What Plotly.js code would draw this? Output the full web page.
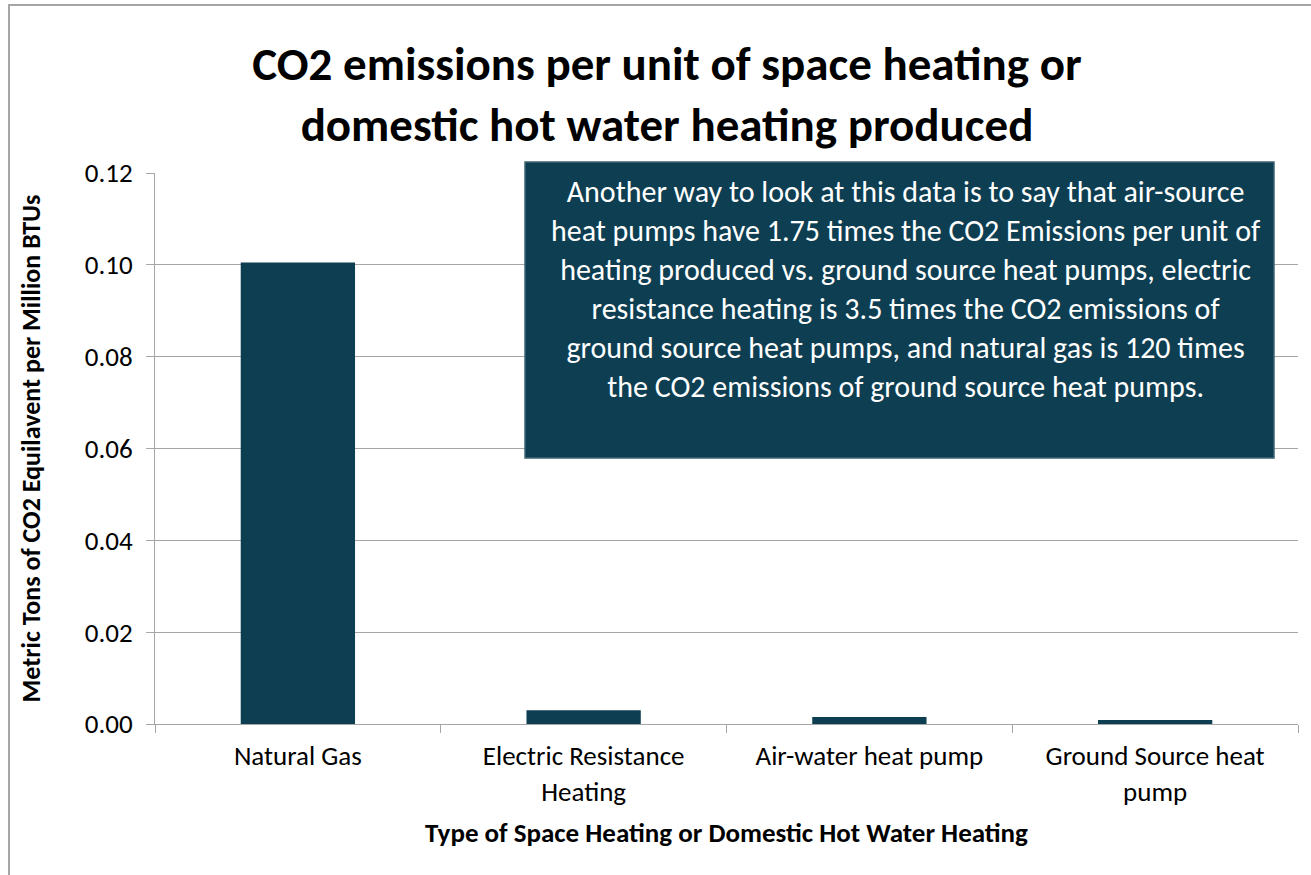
<!DOCTYPE html>
<html>
<head>
<meta charset="utf-8">
<script src="https://cdn.plot.ly/plotly-3.0.1.min.js"></script>
<style>html,body{margin:0;padding:0;background:#fff;}#chart{width:1311px;height:875px;}</style>
</head>
<body>
<div id="chart"></div>
<script>
const categories = ["Natural Gas", "Electric Resistance<br>Heating", "Air-water heat pump", "Ground Source heat<br>pump"];
const emissions = [0.1005, 0.0030, 0.0015, 0.00085];
const yTickValues = [0, 0.02, 0.04, 0.06, 0.08, 0.10, 0.12];
const yTickLabels = ["0.00", "0.02", "0.04", "0.06", "0.08", "0.10", "0.12"];
const chartTitle = "CO2 emissions per unit of space heating or<br>domestic hot water heating produced";
const xTitle = "Type of Space Heating or Domestic Hot Water Heating";
const yTitle = "Metric Tons of CO2 Equilavent per Million BTUs";
const noteText = "Another way to look at this data is to say that air-source<br>heat pumps have 1.75 times the CO2 Emissions per unit of<br>heating produced vs. ground source heat pumps, electric<br>resistance heating is 3.5 times the CO2 emissions of<br>ground source heat pumps, and natural gas is 120 times<br>the CO2 emissions of ground source heat pumps.";

const FONT = "Carlito, Calibri, Lato, 'Open Sans', sans-serif";
const BAR = "#0e3e52";

const W = 1311, H = 875, L = 155, R = 13, T = 173, B = 151;
const pw = W - L - R, ph = H - T - B;
const px = x => (x - L) / pw;
const py = y => (H - B - y) / ph;

const trace = {
  type: "bar",
  x: categories,
  y: emissions,
  marker: {color: BAR},
  hoverinfo: "x+y"
};

const layout = {
  width: W, height: H,
  margin: {l: L, r: R, t: T, b: B},
  paper_bgcolor: "#ffffff",
  plot_bgcolor: "#ffffff",
  font: {family: FONT, color: "#000000"},
  bargap: 0.6,
  showlegend: false,
  title: {
    text: "<b>" + chartTitle + "</b>",
    font: {family: FONT, size: 47, color: "#000000"},
    x: 667 / W, xref: "container", xanchor: "center",
    y: 1 - 80 / H, yref: "container", yanchor: "middle"
  },
  xaxis: {
    type: "category",
    showline: true, linecolor: "#a6a6a6", linewidth: 1,
    ticks: "outside", tickson: "boundaries", ticklen: 8, tickcolor: "#a6a6a6",
    ticklabelstandoff: 8,
    tickfont: {family: FONT, size: 27, color: "#000000"},
    showgrid: false, zeroline: false,
    automargin: false,
    title: {text: "<b>" + xTitle + "</b>", font: {family: FONT, size: 27, color: "#000000"}, standoff: 16}
  },
  yaxis: {
    range: [0, 0.12],
    tickvals: yTickValues, ticktext: yTickLabels,
    showline: true, linecolor: "#a6a6a6", linewidth: 1,
    ticks: "outside", ticklen: 8, tickcolor: "#a6a6a6",
    ticklabelstandoff: 8,
    tickfont: {family: FONT, size: 27, color: "#000000"},
    showgrid: true, gridcolor: "#a6a6a6", gridwidth: 1,
    zeroline: false,
    automargin: false,
    title: {text: "<b>" + yTitle + "</b>", font: {family: FONT, size: 26, color: "#000000"}, standoff: 36}
  },
  shapes: [
    {type: "rect", xref: "paper", yref: "paper",
     x0: px(9), x1: px(1330), y0: py(895), y1: py(5),
     line: {color: "#a6a6a6", width: 2}, fillcolor: "rgba(0,0,0,0)", layer: "below"},
    {type: "rect", xref: "paper", yref: "paper",
     x0: px(525), x1: px(1274), y0: py(458), y1: py(162),
     line: {color: "#3f6473", width: 1.5}, fillcolor: BAR, layer: "above"}
  ],
  annotations: [
    {xref: "paper", yref: "paper", x: px(905), y: py(289),
     xanchor: "center", yanchor: "middle", showarrow: false, align: "center",
     text: noteText,
     font: {family: FONT, size: 30, color: "#ffffff"}}
  ]
};

Plotly.newPlot("chart", [trace], layout, {displayModeBar: false, staticPlot: true});
</script>
</body>
</html>
